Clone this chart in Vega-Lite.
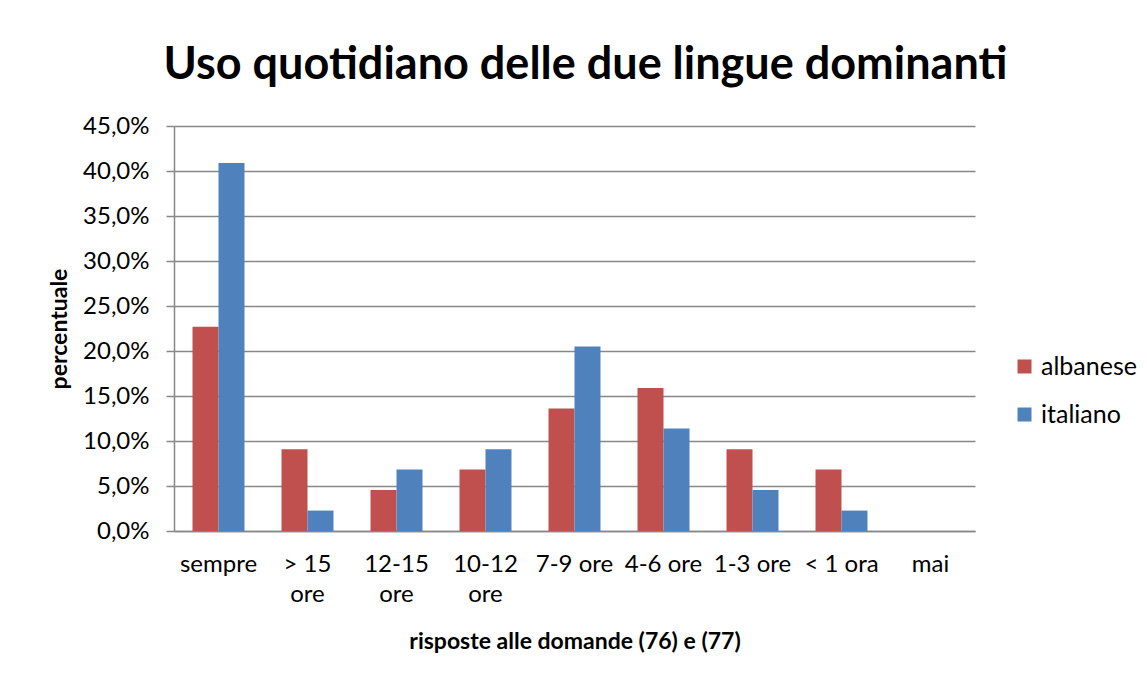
{
  "$schema": "https://vega.github.io/schema/vega-lite/v6.json",
  "autosize": "none",
  "width": 801,
  "height": 405,
  "padding": {"left": 174, "top": 126, "right": 172, "bottom": 148},
  "background": "white",
  "config": {
    "font": "Lato",
    "view": {"stroke": null}
  },
  "title": {
    "text": "Uso quotidiano delle due lingue dominanti",
    "fontSize": 45,
    "fontWeight": "bold",
    "font": "Lato",
    "color": "black",
    "anchor": "middle",
    "dx": 11,
    "offset": 26
  },
  "data": {
    "values": [
      {"categoria": "sempre", "lingua": "albanese", "percentuale": 0.227},
      {"categoria": "sempre", "lingua": "italiano", "percentuale": 0.409},
      {"categoria": "> 15 ore", "lingua": "albanese", "percentuale": 0.0909},
      {"categoria": "> 15 ore", "lingua": "italiano", "percentuale": 0.0227},
      {"categoria": "12-15 ore", "lingua": "albanese", "percentuale": 0.0455},
      {"categoria": "12-15 ore", "lingua": "italiano", "percentuale": 0.0682},
      {"categoria": "10-12 ore", "lingua": "albanese", "percentuale": 0.0682},
      {"categoria": "10-12 ore", "lingua": "italiano", "percentuale": 0.0909},
      {"categoria": "7-9 ore", "lingua": "albanese", "percentuale": 0.136},
      {"categoria": "7-9 ore", "lingua": "italiano", "percentuale": 0.205},
      {"categoria": "4-6 ore", "lingua": "albanese", "percentuale": 0.159},
      {"categoria": "4-6 ore", "lingua": "italiano", "percentuale": 0.114},
      {"categoria": "1-3 ore", "lingua": "albanese", "percentuale": 0.0909},
      {"categoria": "1-3 ore", "lingua": "italiano", "percentuale": 0.0455},
      {"categoria": "< 1 ora", "lingua": "albanese", "percentuale": 0.0682},
      {"categoria": "< 1 ora", "lingua": "italiano", "percentuale": 0.0227},
      {"categoria": "mai", "lingua": "albanese", "percentuale": 0},
      {"categoria": "mai", "lingua": "italiano", "percentuale": 0}
    ]
  },
  "mark": {"type": "bar"},
  "encoding": {
    "x": {
      "field": "categoria",
      "type": "nominal",
      "sort": ["sempre", "> 15 ore", "12-15 ore", "10-12 ore", "7-9 ore", "4-6 ore", "1-3 ore", "< 1 ora", "mai"],
      "scale": {"paddingInner": 0.416, "paddingOuter": 0.208},
      "axis": {
        "title": "risposte alle domande (76) e (77)",
        "titleFontSize": 23,
        "titleFontWeight": "bold",
        "titleColor": "black",
        "titlePadding": 24,
        "labelAngle": 0,
        "labelFontSize": 24,
        "labelColor": "black",
        "labelPadding": 21,
        "labelLineHeight": 30,
        "labelExpr": "datum.value == '> 15 ore' ? ['> 15', 'ore'] : datum.value == '12-15 ore' ? ['12-15', 'ore'] : datum.value == '10-12 ore' ? ['10-12', 'ore'] : datum.value",
        "ticks": false,
        "domainColor": "#888888",
        "domainWidth": 1.5
      }
    },
    "xOffset": {
      "field": "lingua",
      "type": "nominal",
      "scale": {"paddingInner": 0, "paddingOuter": 0}
    },
    "y": {
      "field": "percentuale",
      "type": "quantitative",
      "scale": {"domain": [0, 0.45], "nice": false},
      "axis": {
        "title": "percentuale",
        "titleFontSize": 23,
        "titleFontWeight": "bold",
        "titleColor": "black",
        "titlePadding": 11,
        "values": [0, 0.05, 0.1, 0.15, 0.2, 0.25, 0.3, 0.35, 0.4, 0.45],
        "labelExpr": "replace(format(datum.value, '.1%'), '.', ',')",
        "labelFontSize": 24,
        "labelColor": "black",
        "labelPadding": 17,
        "tickSize": 8,
        "tickColor": "#888888",
        "tickWidth": 1.5,
        "domainColor": "#888888",
        "domainWidth": 1.5,
        "gridColor": "#888888",
        "gridWidth": 1.5
      }
    },
    "color": {
      "field": "lingua",
      "type": "nominal",
      "scale": {"domain": ["albanese", "italiano"], "range": ["#C0504D", "#4F81BD"]},
      "legend": {
        "title": null,
        "orient": "none",
        "legendX": 838,
        "legendY": 228,
        "symbolType": "square",
        "symbolSize": 196,
        "symbolStrokeWidth": 0,
        "labelFontSize": 25,
        "labelColor": "black",
        "labelOffset": 4,
        "rowPadding": 22
      }
    }
  }
}
